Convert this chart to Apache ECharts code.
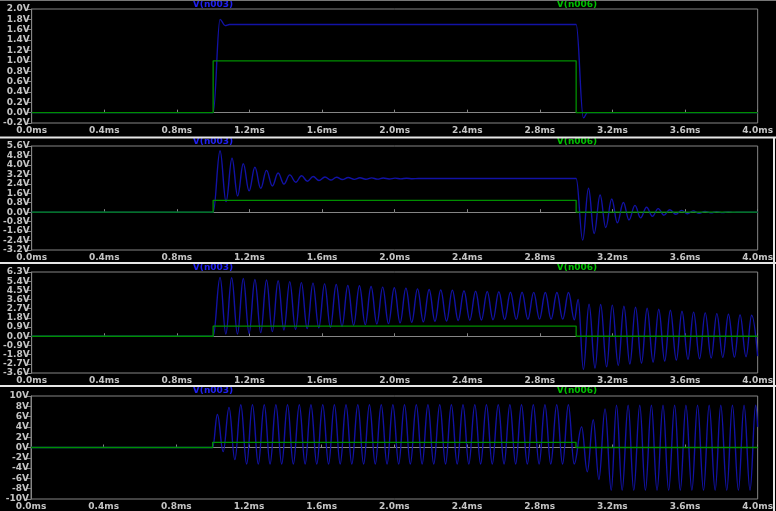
<!DOCTYPE html>
<html lang="en">
<head>
<meta charset="UTF-8"/>
<title>V(n003) / V(n006)</title>
<style>
    html, body { margin: 0; padding: 0; background: #000; }
    #main { width: 776px; height: 511px; }
</style>
</head>
<body>

<div id="main"></div>

<script src="https://cdn.jsdelivr.net/npm/echarts@6/dist/echarts.min.js"></script>
<script type="text/javascript">

    // ---- tick labels ----
    var xTickLabels = ['0.0ms','0.4ms','0.8ms','1.2ms','1.6ms','2.0ms','2.4ms','2.8ms','3.2ms','3.6ms','4.0ms'];
    var yTicks1 = ['-0.2V','0.0V','0.2V','0.4V','0.6V','0.8V','1.0V','1.2V','1.4V','1.6V','1.8V','2.0V'];
    var yTicks2 = ['-3.2V','-2.4V','-1.6V','-0.8V','0.0V','0.8V','1.6V','2.4V','3.2V','4.0V','4.8V','5.6V'];
    var yTicks3 = ['-3.6V','-2.7V','-1.8V','-0.9V','0.0V','0.9V','1.8V','2.7V','3.6V','4.5V','5.4V','6.3V'];
    var yTicks4 = ['-10V','-8V','-6V','-4V','-2V','0V','2V','4V','6V','8V','10V'];

    // ---- V(n006): input step, [ms, V] ----
    var n006 = [[0,0],[1.0,0],[1.0,1.0],[3.0,1.0],[3.0,0],[4.0,0]];

    // ---- V(n003), pane 1 ----
    var n003a = [[0,0],[1.0,0],[1.038,1.80],[1.066,1.68],[1.09,1.70],[3.0,1.70],[3.04,-0.10],[3.062,0],[4.0,0]];

    var n003b = [[0,0],[1.0,0],
        [1.038,5.20],[1.071,0.90],[1.104,4.56],[1.135,1.38],[1.166,4.10],[1.198,1.80],[1.230,3.80],[1.262,2.02],
        [1.294,3.54],[1.326,2.22],[1.358,3.32],[1.390,2.38],[1.422,3.16],[1.455,2.53],[1.487,3.08],[1.519,2.62],
        [1.551,3.02],[1.583,2.68],[1.616,2.98],[1.648,2.72],[1.680,2.95],[1.712,2.76],[1.744,2.93],[1.777,2.78],
        [1.809,2.91],[1.841,2.79],[1.873,2.90],[1.905,2.80],[1.937,2.89],[1.970,2.81],[2.002,2.88],[2.034,2.82],
        [2.066,2.87],[2.098,2.83],[2.130,2.85],[3.0,2.85],
        [3.036,-2.36],[3.068,2.02],[3.099,-1.80],[3.132,1.46],[3.163,-1.30],[3.196,1.12],[3.227,-0.90],[3.260,0.82],
        [3.291,-0.66],[3.324,0.58],[3.355,-0.48],[3.388,0.42],[3.420,-0.35],[3.452,0.30],[3.484,-0.25],[3.516,0.21],
        [3.549,-0.18],[3.581,0.15],[3.613,-0.13],[3.645,0.11],[3.677,-0.09],[3.710,0.07],[3.742,-0.06],[3.774,0.05],
        [3.806,-0.04],[3.838,0.03],[3.870,-0.02],[3.902,0],[4.0,0]];

    // ---- V(n003), pane 3 (slowly decaying oscillation) ----
    var n003c = [[0,0],[1.0,0],
        [1.038,5.77],[1.070,0.23],[1.102,5.73],[1.134,0.23],[1.166,5.67],[1.198,0.29],[1.230,5.57],[1.262,0.36],
        [1.294,5.51],[1.326,0.46],[1.358,5.44],[1.390,0.62],[1.422,5.36],[1.454,0.68],[1.486,5.26],[1.518,0.75],
        [1.550,5.21],[1.582,0.82],[1.614,5.14],[1.646,0.88],[1.678,5.08],[1.710,0.95],[1.742,4.98],[1.774,1.08],
        [1.806,4.95],[1.838,1.14],[1.870,4.88],[1.902,1.21],[1.934,4.82],[1.966,1.24],[1.998,4.75],[2.030,1.31],
        [2.062,4.72],[2.094,1.37],[2.126,4.65],[2.158,1.41],[2.190,4.59],[2.222,1.47],[2.254,4.55],[2.286,1.49],
        [2.318,4.52],[2.350,1.54],[2.382,4.46],[2.414,1.57],[2.446,4.42],[2.478,1.59],[2.510,4.39],[2.542,1.62],
        [2.574,4.36],[2.606,1.64],[2.638,4.32],[2.670,1.66],[2.702,4.31],[2.734,1.67],[2.766,4.30],[2.798,1.68],
        [2.830,4.29],[2.862,1.68],[2.894,4.29],[2.926,1.68],[2.958,4.29],[2.990,1.62],
        [3.011,3.60],[3.040,-3.25],[3.071,3.15],[3.104,-3.12],[3.135,3.12],[3.168,-2.99],[3.199,3.05],[3.232,-2.86],
        [3.263,2.95],[3.296,-2.72],[3.327,2.85],[3.360,-2.63],[3.391,2.75],[3.424,-2.53],[3.455,2.65],[3.488,-2.43],
        [3.519,2.55],[3.552,-2.33],[3.583,2.46],[3.616,-2.26],[3.647,2.37],[3.680,-2.20],[3.711,2.29],[3.744,-2.13],
        [3.775,2.22],[3.808,-2.07],[3.839,2.16],[3.872,-2.04],[3.903,2.10],[3.936,-2.00],[3.967,2.06],[4.0,-1.95]];

    // ---- V(n003), pane 4 (clipped sustained oscillation) ----
    var n003d = [[0,0],[1.0,0],
        [1.026,6.4],[1.058,-0.8],[1.090,7.8],[1.122,-2.35],[1.155,8.3],[1.187,-3.2],[1.219,8.3],[1.251,-3.2],
        [1.284,8.3],[1.316,-3.2],[1.348,8.3],[1.380,-3.2],[1.412,8.3],[1.444,-3.2],[1.477,8.3],[1.509,-3.2],
        [1.541,8.3],[1.573,-3.2],[1.606,8.3],[1.638,-3.2],[1.670,8.3],[1.702,-3.2],[1.734,8.3],[1.766,-3.2],
        [1.799,8.3],[1.831,-3.2],[1.863,8.3],[1.895,-3.2],[1.928,8.3],[1.960,-3.2],[1.992,8.3],[2.024,-3.2],
        [2.056,8.3],[2.088,-3.2],[2.121,8.3],[2.153,-3.2],[2.185,8.3],[2.217,-3.2],[2.250,8.3],[2.282,-3.2],
        [2.314,8.3],[2.346,-3.2],[2.378,8.3],[2.410,-3.2],[2.443,8.3],[2.475,-3.2],[2.507,8.3],[2.539,-3.2],
        [2.572,8.3],[2.604,-3.2],[2.636,8.3],[2.668,-3.2],[2.700,8.3],[2.732,-3.2],[2.765,8.3],[2.797,-3.2],
        [2.829,8.3],[2.861,-3.2],[2.894,8.3],[2.926,-3.2],[2.958,8.3],[2.990,-3.2],
        [3.031,4.0],[3.062,-4.7],[3.095,5.4],[3.126,-6.2],[3.160,7.5],[3.194,-8.3],[3.223,8.2],[3.254,-8.3],
        [3.287,8.2],[3.318,-8.3],[3.351,8.2],[3.382,-8.3],[3.415,8.2],[3.446,-8.3],[3.479,8.2],[3.510,-8.3],
        [3.543,8.2],[3.574,-8.3],[3.605,8.2],[3.638,-8.3],[3.669,8.2],[3.702,-8.3],[3.733,8.2],[3.766,-8.3],
        [3.797,8.2],[3.830,-8.3],[3.861,8.2],[3.894,-8.3],[3.925,8.2],[3.958,-8.3],[3.989,8.2],[4.0,4.0]];

    var BLUE = '#1212a6', GREEN = '#008e00';
    var LABEL = '#c4c4c4', FRAME = '#858585';
    var FONT = 'DejaVu Sans';

    // pane layout: top / height of each plot box, y range
    var panes = [
        {top: 9,   height: 114, min: -0.2, max: 2.0, step: 0.2, ticks: yTicks1, blue: n003a, title: 5},
        {top: 146, height: 104, min: -3.2, max: 5.6, step: 0.8, ticks: yTicks2, blue: n003b, title: 142},
        {top: 272, height: 101, min: -3.6, max: 6.3, step: 0.9, ticks: yTicks3, blue: n003c, title: 268},
        {top: 396, height: 105, min: -10,  max: 10,  step: 2,   ticks: yTicks4, blue: n003d, title: 391}
    ];

    var grids = [], xAxes = [], yAxes = [], series = [], graphics = [];

    panes.forEach(function (p, i) {
        grids.push({
            left: 31, right: 17, top: p.top, height: p.height,
            show: true, backgroundColor: '#000', borderColor: FRAME, borderWidth: 1
        });
        xAxes.push({
            gridIndex: i, type: 'value', min: 0, max: 4, interval: 0.4,
            axisLine: {lineStyle: {color: FRAME}},
            axisTick: {inside: true, length: 3, lineStyle: {color: FRAME}},
            splitLine: {show: false},
            axisLabel: {
                color: LABEL, fontFamily: FONT, fontWeight: 'bold', fontSize: 9, margin: 3,
                formatter: function (v) { return xTickLabels[Math.round(v / 0.4)]; }
            }
        });
        yAxes.push({
            gridIndex: i, type: 'value', min: p.min, max: p.max, interval: p.step,
            axisLine: {show: true, lineStyle: {color: FRAME}},
            axisTick: {show: true, length: 5, lineStyle: {color: FRAME}},
            splitLine: {show: false},
            axisLabel: {
                color: LABEL, fontFamily: FONT, fontWeight: 'bold', fontSize: 9, margin: 2,
                formatter: function (v) { return p.ticks[Math.round((v - p.min) / p.step)]; }
            }
        });
        series.push({
            name: 'V(n003)', type: 'line', xAxisIndex: i, yAxisIndex: i,
            data: p.blue, showSymbol: false, smooth: 0.4, smoothMonotone: 'x',
            lineStyle: {color: BLUE, width: 1.4}, z: 2
        });
        series.push({
            name: 'V(n006)', type: 'line', xAxisIndex: i, yAxisIndex: i,
            data: n006, showSymbol: false,
            lineStyle: {color: GREEN, width: 1.3}, z: 3
        });
        graphics.push({
            type: 'text', x: 213, y: p.title,
            style: {text: 'V(n003)', fill: '#2020f0', font: 'bold 9px ' + FONT, textAlign: 'center', textVerticalAlign: 'middle'}
        });
        graphics.push({
            type: 'text', x: 577, y: p.title,
            style: {text: 'V(n006)', fill: '#00c000', font: 'bold 9px ' + FONT, textAlign: 'center', textVerticalAlign: 'middle'}
        });
    });

    // window separators
    [136.5, 262, 385].forEach(function (y) {
        graphics.push({type: 'rect', shape: {x: 0, y: y, width: 776, height: 2}, style: {fill: '#e6e6e6'}});
    });
    graphics.push({type: 'rect', shape: {x: 773, y: 137, width: 2, height: 374}, style: {fill: '#e6e6e6'}});
    graphics.push({type: 'rect', shape: {x: 0, y: 0, width: 776, height: 1}, style: {fill: '#777'}});

    var myChart = echarts.init(document.getElementById('main'));
    myChart.setOption({
        backgroundColor: '#000',
        animation: false,
        grid: grids,
        xAxis: xAxes,
        yAxis: yAxes,
        series: series,
        graphic: graphics
    });

</script>
</body>
</html>
